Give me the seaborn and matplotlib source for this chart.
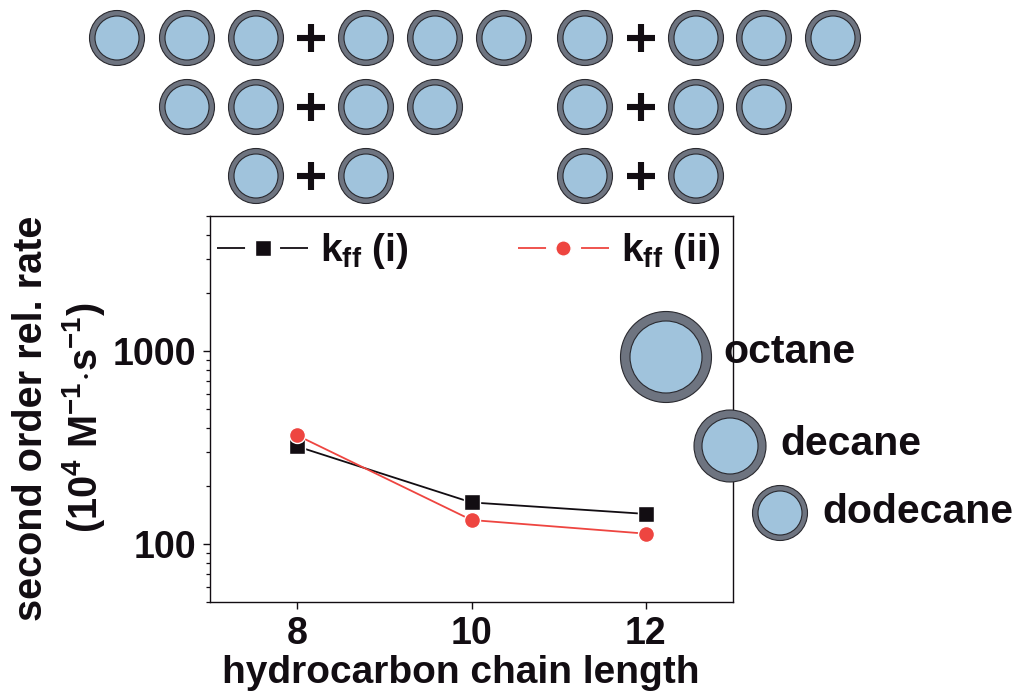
import numpy as np
import pandas as pd
import matplotlib
matplotlib.use("Agg")
import matplotlib.pyplot as plt
import seaborn as sns
from matplotlib.patches import Circle
from matplotlib.lines import Line2D
from matplotlib.ticker import LogLocator, NullFormatter, FixedLocator

# ---------------- data ----------------
chain_length = [8, 10, 12]
kff_i = [320, 164, 143]
kff_ii = [365, 133, 113]
series_keys = ["(i)", "(ii)"]
series_labels = [r"k$_{\mathrm{ff}}$ (i)", r"k$_{\mathrm{ff}}$ (ii)"]
x_ticks = [8, 10, 12]
y_ticks = [100, 1000]
y_tick_labels = ["100", "1000"]
solvents = ["octane", "decane", "dodecane"]

# ---------------- style ----------------
sns.set_style("ticks")
plt.rcParams["font.family"] = ["Liberation Sans", "DejaVu Sans"]
plt.rcParams["font.weight"] = "bold"
plt.rcParams["mathtext.fontset"] = "custom"
plt.rcParams["mathtext.rm"] = "Liberation Sans:bold"
plt.rcParams["mathtext.it"] = "Liberation Sans:bold"
plt.rcParams["mathtext.bf"] = "Liberation Sans:bold"
plt.rcParams["mathtext.default"] = "rm"
plt.rcParams["lines.scale_dashes"] = False

TXT = "#120d12"
RED = "#ee4540"
RING = "#6e7480"
FILL = "#a0c3dc"
EDGE = "#2a2a30"
colors = {"(i)": TXT, "(ii)": RED}
markers = {"(i)": "s", "(ii)": "o"}

W, H = 1021, 694
fig = plt.figure(figsize=(W / 100, H / 100), dpi=100)
ax = fig.add_axes([210 / W, (H - 602) / H, 523 / W, 386 / H])

df = pd.DataFrame({
    "x": chain_length * 2,
    "y": kff_i + kff_ii,
    "series": [series_keys[0]] * len(chain_length) + [series_keys[1]] * len(chain_length),
})

sns.lineplot(data=df, x="x", y="y", hue="series", style="series",
             markers=markers, dashes=False, palette=colors, markersize=11.5,
             linewidth=1.3, markeredgecolor="white", markeredgewidth=1.0,
             legend=False, ax=ax)

ax.set_yscale("log")
ax.set_xlim(7, 13)
ax.set_ylim(50, 5000)
ax.xaxis.set_major_locator(FixedLocator(x_ticks))
ax.set_xticklabels([str(v) for v in x_ticks])
ax.yaxis.set_major_locator(FixedLocator(y_ticks))
ax.set_yticklabels(y_tick_labels)
ax.yaxis.set_minor_locator(LogLocator(base=10, subs=np.arange(2, 10)))
ax.yaxis.set_minor_formatter(NullFormatter())

for s in ax.spines.values():
    s.set_linewidth(1.0)
    s.set_color(TXT)
ax.tick_params(axis="both", which="major", direction="out", length=5, width=1.0,
               labelsize=27, pad=5, colors=TXT)
ax.tick_params(axis="y", which="minor", direction="out", length=3, width=0.9, colors=TXT)
ax.tick_params(axis="x", which="minor", length=0)
for lab in ax.get_xticklabels() + ax.get_yticklabels():
    lab.set_fontweight("bold")

ax.set_xlabel("hydrocarbon chain length", fontsize=28, fontweight="bold", color=TXT)
ax.xaxis.set_label_coords((461 - 210) / 523, (602 - 655) / 386)
ax.xaxis.label.set_verticalalignment("top")
ax.set_ylabel("second order rel. rate", fontsize=28.5, fontweight="bold", color=TXT)
ax.yaxis.label.set_verticalalignment("baseline")
ax.yaxis.set_label_coords((42 - 210) / 523, (602 - 418) / 386)

# legend with Origin-style handles: line - gap - marker - gap - line
proxies = [Line2D([], [], color=colors[k], lw=1.3, marker=markers[k],
                  markersize=11, markeredgecolor="white", markeredgewidth=1.0,
                  linestyle=(0, (20.2, 25.2)))
           for k in series_keys]
leg = ax.legend(proxies, series_labels, ncol=2,
                loc="upper left", bbox_to_anchor=(7 / 523, 0.96),
                frameon=False, fontsize=28, handlelength=2.35,
                handletextpad=0.3, columnspacing=2.8, borderpad=0,
                borderaxespad=0)
for t in leg.get_texts():
    t.set_fontweight("bold")
    t.set_color(TXT)

# ---------------- schematic overlay ----------------
ov = fig.add_axes([0, 0, 1, 1], zorder=5)
ov.set_xlim(0, W)
ov.set_ylim(H, 0)
ov.axis("off")
ov.patch.set_alpha(0)


def droplet(x, y, ro, ri):
    ov.add_patch(Circle((x, y), ro, facecolor=RING, edgecolor=EDGE, lw=0.8))
    ov.add_patch(Circle((x, y), ri, facecolor=FILL, edgecolor=EDGE, lw=0.8))


def plus(x, y):
    ov.plot([x - 14, x + 14], [y, y], color=TXT, lw=4.4, solid_capstyle="butt")
    ov.plot([x, x], [y - 14, y + 14], color=TXT, lw=4.4, solid_capstyle="butt")


rows_y = [38, 107, 176]
left_rows = [([117, 187, 256], 311, [366, 435, 504]),
             ([187, 256], 311, [366, 435]),
             ([256], 311, [366])]
right_rows = [([585], 641, [696, 764, 833]),
              ([585], 641, [696, 764]),
              ([585], 641, [696])]
for y, (l, p, r) in zip(rows_y, left_rows):
    for x in l + r:
        droplet(x, y, 27.5, 22)
    plus(p, y)
for y, (l, p, r) in zip(rows_y, right_rows):
    for x in l + r:
        droplet(x, y, 27.5, 22)
    plus(p, y)

drops = [(666, 357, 45.5, 36, 723, 363),
         (730, 446, 36, 28, 780, 455),
         (780, 513, 27.5, 22, 822, 523)]
for name, (cx, cy, ro, ri, tx, ty) in zip(solvents, drops):
    droplet(cx, cy, ro, ri)
    ov.text(tx, ty, name, fontsize=29.5, fontweight="bold", color=TXT,
            ha="left", va="baseline")

ov.text(97, 418, r"(10$^{4}$ M$^{-1}$$\cdot$s$^{-1}$)", fontsize=28.5,
        fontweight="bold", color=TXT, rotation=90, ha="center", va="baseline",
        rotation_mode="anchor")

fig.savefig("out.png", dpi=100)
